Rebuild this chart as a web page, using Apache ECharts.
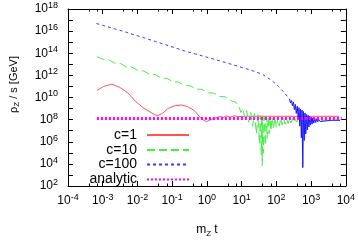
<!DOCTYPE html>
<html>
<head>
<meta charset="utf-8">
<script src="https://cdn.jsdelivr.net/npm/echarts@6/dist/echarts.min.js"></script>
<style>
html,body{margin:0;padding:0;background:#fff;}
#chart{width:358px;height:243px;}
</style>
</head>
<body>
<div id="chart"></div>
<script>
// ---- data ----
const xTickExp = [-4, -3, -2, -1, 0, 1, 2, 3, 4];
const yTickExp = [2, 4, 6, 8, 10, 12, 14, 16, 18];

const c1X = [6.8e-4, 1.06e-3, 1.82e-3, 3.1e-3, 5.3e-3, 9.1e-3, 1.55e-2, 2.66e-2, 3.67e-2, 5.2e-2, 7.76e-2, 0.119, 0.184, 0.275, 0.433, 0.667, 0.82, 0.97, 1.25, 1.57, 2.42, 2.99, 3.63, 4.68, 6.0, 8.3, 14.9, 6300];
const c1Y = [4.3e10, 1.0e11, 1.6e11, 8.3e10, 2.6e10, 4.0e9, 1.05e9, 3.8e8, 2.2e8, 3.6e8, 1.05e9, 1.8e9, 2.1e9, 1.5e9, 6.6e8, 1.4e8, 8.5e7, 6.5e7, 9.5e7, 1.24e8, 1.95e8, 1.6e8, 2.2e8, 1.67e8, 2.2e8, 1.9e8, 2.0e8, 2.0e8];

const c10X = [6.9e-4, 1.02e-3, 1.50e-3, 2.20e-3, 3.24e-3, 4.77e-3, 7.02e-3, 1.03e-2, 1.52e-2, 2.24e-2, 3.29e-2, 4.85e-2, 7.13e-2, 0.105, 0.155, 0.227, 0.334, 0.492, 0.725, 1.07, 1.57, 2.31, 3.40, 5.00, 6.90,
  8.38, 9.53, 10.8, 12.3, 14.0, 16.0, 18.2, 20.6, 23.5, 26.7, 29.4, 32.4, 34.5, 36.8, 38.0, 39.3, 40.6, 41.9, 44.7, 47.6,
  50.8, 54.2, 57.8, 61.7, 65.8, 70.2, 74.8, 82.4, 90.8, 100, 110, 121, 134, 147, 162, 179, 197, 217, 239, 263,
  290, 319, 351, 387, 426, 469, 516, 587, 668, 760, 865, 984, 1119, 1273, 1449, 1648, 1875, 2133, 2427, 2761, 3141, 3565, 6790];
const c10Y = [4.86e13, 2.83e13, 2.61e13, 1.29e13, 1.21e13, 5.88e12, 5.53e12, 2.68e12, 2.52e12, 1.25e12, 1.15e12, 5.69e11, 5.36e11, 2.65e11, 2.44e11, 1.21e11, 1.14e11, 5.74e10, 5.41e10, 2.67e10, 2.47e10, 1.22e10, 1.15e10, 5.13e9, 3.64e9,
  1.47e9, 4.4e8, 9.8e8, 1.61e8, 6.6e8, 5.9e7, 4.9e8, 2.6e7, 3.6e8, 5.2e6, 2.9e8, 7.0e5, 2.4e8, 6.3e4, 2.26e8, 6.9e3, 2.2e8, 9.4e4, 1.97e8, 4.7e5,
  1.97e8, 1.9e6, 1.78e8, 5.2e6, 1.61e8, 9.6e6, 1.61e8, 1.44e7, 1.45e8, 1.94e7, 1.45e8, 2.6e7, 1.32e8, 3.2e7, 1.32e8, 3.9e7, 1.19e8, 4.5e7, 1.19e8, 5.1e7,
  1.19e8, 5.5e7, 1.07e8, 5.9e7, 1.07e8, 6.2e7, 1.07e8, 6.5e7, 1.01e8, 6.9e7, 9.7e7, 7.2e7, 9.3e7, 7.5e7, 9.2e7, 7.8e7, 8.8e7, 7.9e7, 8.8e7, 8.1e7, 8.6e7, 8.3e7, 8.4e7];

const c100X = [6.6e-4, 4.77e-3, 3.29e-2, 0.227, 1.94, 16.7, 39.3, 74.8, 115, 173, 239];
const c100Y = [4.9e16, 7.9e15, 1.17e15, 1.62e14, 2.45e13, 3.3e12, 1.26e12, 3.37e11, 1.01e11, 2.47e10, 7.4e9];
const c100BandX = [239, 254, 272, 290, 309, 329, 351, 374, 399, 426, 449, 472, 497, 524, 548, 577, 603, 635, 668, 704,
  741, 780, 822, 865, 911, 959, 1010, 1063, 1119, 1194, 1273, 1358, 1449, 1546, 1648, 1815, 2000, 2203, 2427, 2761, 3141, 3565, 4325, 6790];
const c100BandY = [7.4e9, 3.3e9, 5.4e9, 1.8e9, 4.0e9, 8.1e8, 2.4e9, 3.6e8, 1.63e9, 1.32e8, 1.2e9, 2.6e7, 8.9e8, 2.3e6, 7.3e8, 4.6e3, 5.4e8, 1.3e6, 4.0e8, 5.2e6,
  2.9e8, 1.17e7, 2.4e8, 2.15e7, 1.97e8, 3.2e7, 1.61e8, 3.9e7, 1.45e8, 4.8e7, 1.32e8, 5.5e7, 1.19e8, 6.1e7, 1.07e8, 6.8e7, 1.01e8, 7.2e7, 9.7e7, 7.8e7, 9.3e7, 8.3e7, 8.9e7, 8.8e7];

const anaX = [6.8e-4, 7600];
const anaY = [1.25e8, 1.25e8];

// ---- chart ----
const pairs = (xs, ys) => xs.map((x, i) => [x, ys[i]]);
const FONT = 'Liberation Sans';
const expOf = v => Math.round(Math.log10(v));
const supRich = {
  b: { fontSize: 12, lineHeight: 16, fontFamily: FONT, color: '#000' },
  s: { fontSize: 9, lineHeight: 9, verticalAlign: 'top', fontFamily: FONT, color: '#000' }
};
const fmtX = v => { const e = expOf(v); return xTickExp.includes(e) ? '{b|10}{s|' + e + '}' : ''; };
const fmtY = v => { const e = expOf(v); return yTickExp.includes(e) ? '{b|10}{s|' + e + '}' : ''; };

const tickCfg = { inside: true, length: 5, lineStyle: { color: '#000', width: 1 } };
const minorCfg = { show: true, splitNumber: 3, length: 2.5, lineStyle: { color: '#000', width: 1 } };
const lineCfg = { show: true, onZero: false, lineStyle: { color: '#000', width: 1 } };

const RED = '#ff5555', GREEN = '#44ee44', BLUE = '#3a3aff', BAND = '#1515ff', MAG = '#ff00ff';

const chart = echarts.init(document.getElementById('chart'), null, { renderer: 'canvas' });

function legendFor(name, centerY) {
  return {
    data: [name], right: 168, top: centerY - 7, orient: 'vertical', align: 'right',
    padding: 0, itemWidth: 42, itemHeight: 14, selectedMode: false,
    itemStyle: { color: 'rgba(0,0,0,0)', borderColor: 'rgba(0,0,0,0)', borderWidth: 0, opacity: 0 },
    textStyle: { fontFamily: FONT, fontSize: 14, color: '#000', padding: [0, 5, 0, 0] }
  };
}

chart.setOption({
  animation: false,
  backgroundColor: '#fff',
  grid: { left: 60, top: 9, width: 286, height: 183, containLabel: false },
  legend: [legendFor('c=1', 135), legendFor('c=10', 150), legendFor('c=100', 164.5), legendFor('analytic', 179.5)],
  xAxis: [
    {
      type: 'log', logBase: 10, min: 1e-4, max: 1e4, interval: 1, position: 'bottom',
      axisLine: lineCfg, axisTick: tickCfg, minorTick: minorCfg, splitLine: { show: false },
      axisLabel: { formatter: fmtX, margin: 7, rich: supRich },
      name: 'm{sub|Z} t', nameLocation: 'middle', nameGap: 36,
      nameTextStyle: { fontFamily: FONT, fontSize: 12, color: '#000',
        rich: { sub: { fontSize: 8, verticalAlign: 'bottom', lineHeight: 16, fontFamily: FONT, color: '#000' } } }
    },
    {
      type: 'log', logBase: 10, min: 1e-4, max: 1e4, interval: 1, position: 'top',
      axisLine: lineCfg, axisTick: tickCfg, minorTick: minorCfg, splitLine: { show: false },
      axisLabel: { show: false }
    }
  ],
  yAxis: [
    {
      type: 'log', logBase: 10, min: 1e2, max: 1e18, interval: 1, position: 'left',
      axisLine: lineCfg, axisTick: tickCfg, splitLine: { show: false },
      axisLabel: { formatter: fmtY, margin: 10, rich: supRich, showMinLabel: true, showMaxLabel: true },
      name: 'ρ{sub|Z} / s [GeV]', nameLocation: 'middle', nameGap: 47, nameRotate: 90,
      nameTextStyle: { fontFamily: FONT, fontSize: 11, color: '#000', padding: [0, 0, 0, 26],
        rich: { sub: { fontSize: 8, verticalAlign: 'bottom', lineHeight: 15, fontFamily: FONT, color: '#000' } } }
    },
    {
      type: 'log', logBase: 10, min: 1e2, max: 1e18, interval: 1, position: 'right',
      axisLine: lineCfg, axisTick: tickCfg, splitLine: { show: false },
      axisLabel: { show: false }
    }
  ],
  series: [
    { name: 'c=1', type: 'line', data: pairs(c1X, c1Y), symbol: 'none', z: 2,
      lineStyle: { color: RED, width: 1 }, itemStyle: { color: RED } },
    { name: 'c=10', type: 'line', data: pairs(c10X, c10Y), symbol: 'none', z: 3,
      lineStyle: { color: GREEN, width: 1, type: [8, 4] }, itemStyle: { color: GREEN } },
    { name: 'c=100', type: 'line', data: pairs(c100X, c100Y), symbol: 'none', z: 4,
      lineStyle: { color: BLUE, width: 1, type: [3, 3] }, itemStyle: { color: BLUE } },
    { name: 'c=100', type: 'line', data: pairs(c100BandX, c100BandY), symbol: 'none', z: 4,
      lineStyle: { color: BAND, width: 1 }, itemStyle: { color: BAND } },
    { name: 'analytic', type: 'line', data: pairs(anaX, anaY), symbol: 'none', z: 5,
      lineStyle: { color: MAG, width: 3, type: [2, 2] }, itemStyle: { color: MAG } }
  ]
});
</script>
</body>
</html>
